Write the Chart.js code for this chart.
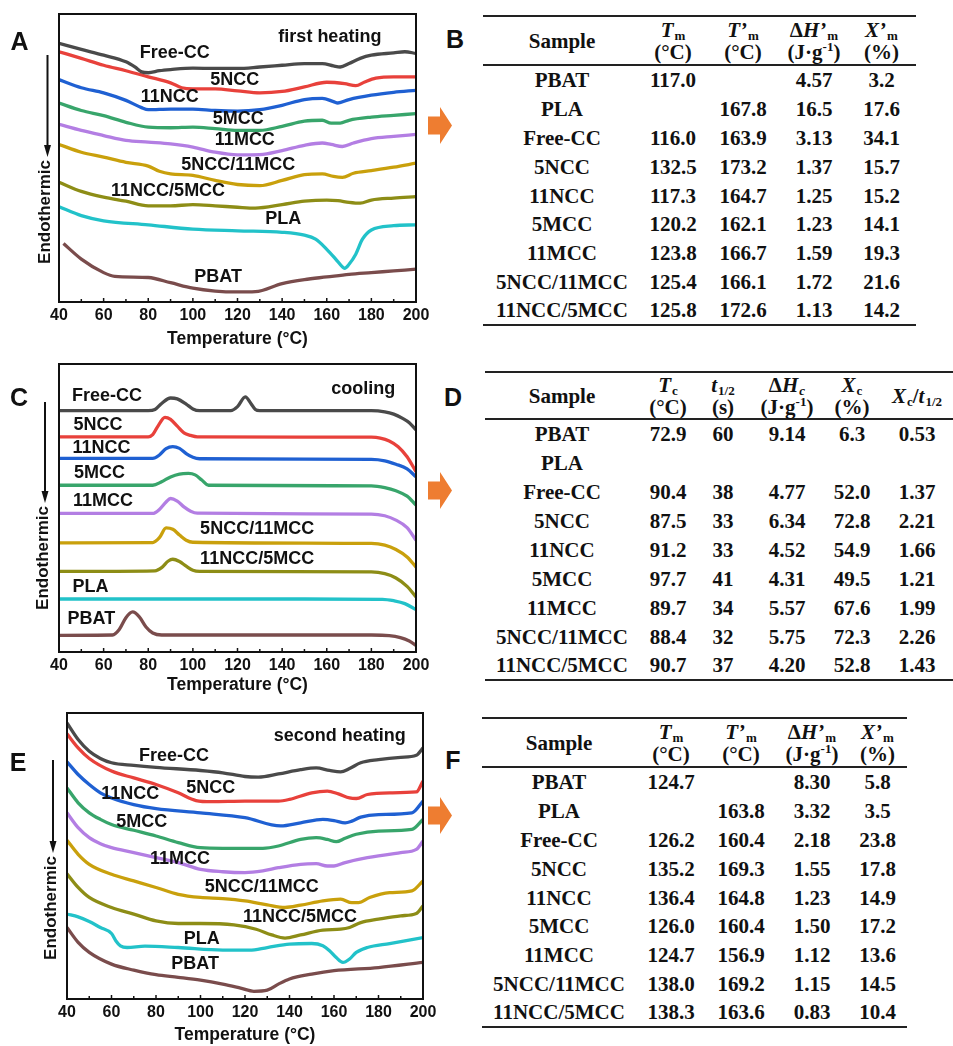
<!DOCTYPE html>
<html lang="en">
  <head>
    <meta charset="UTF-8" />
    <meta name="viewport" content="width=device-width, initial-scale=1.0" />
    <title>DSC curves and thermal parameters</title>
    <script src="https://cdn.jsdelivr.net/npm/chart.js@4.4.1/dist/chart.umd.min.js"></script>
    <style>
      html,
      body {
        margin: 0;
        padding: 0;
        background: #fff;
      }
      body {
        position: relative;
        width: 953px;
        height: 1046px;
        overflow: hidden;
      }
      canvas {
        position: absolute;
        left: 0;
      }
      .letter {
        position: absolute;
        font: bold 25px "Liberation Sans", Arial, sans-serif;
        color: #111;
        line-height: 1;
        transform: translate(-50%, -50%);
      }
      .arrow {
        position: absolute;
        left: 428px;
        width: 24px;
        height: 37px;
        background: #ee7d31;
        clip-path: polygon(0 26%, 50% 26%, 50% 0, 100% 50%, 50% 100%, 50% 74%, 0 74%);
      }
      table {
        position: absolute;
        border-collapse: separate;
        border-spacing: 0;
        table-layout: fixed;
        font: bold 21px "Liberation Serif", "Times New Roman", serif;
        color: #111;
      }
      th,
      td {
        padding: 0;
        text-align: center;
        white-space: nowrap;
      }
      th {
        line-height: 22px;
        border-top: 2px solid #222;
        border-bottom: 2px solid #222;
      }
      td {
        line-height: 21px;
      }
      tr:last-child td {
        border-bottom: 2px solid #222;
      }
      sub,
      sup {
        font-size: 13px;
        line-height: 0;
        position: relative;
        vertical-align: baseline;
        font-style: normal;
      }
      sub {
        top: 3px;
        margin-left: 1px;
      }
      sup {
        top: -8px;
      }
      sub.it {
        font-style: italic;
      }
    </style>
  </head>
  <body>
    <canvas id="chartA" width="440" height="350" style="top: 0"></canvas>
    <canvas id="chartC" width="440" height="346" style="top: 350px"></canvas>
    <canvas id="chartE" width="440" height="346" style="top: 700px"></canvas>

    <div class="letter" style="left: 19.5px; top: 40.5px">A</div>
    <div class="letter" style="left: 19px; top: 397px">C</div>
    <div class="letter" style="left: 18px; top: 762px">E</div>
    <div class="letter" style="left: 455px; top: 39px">B</div>
    <div class="letter" style="left: 453px; top: 397px">D</div>
    <div class="letter" style="left: 453px; top: 760px">F</div>

    <div class="arrow" style="top: 107px"></div>
    <div class="arrow" style="top: 472px"></div>
    <div class="arrow" style="top: 797px"></div>

    <script>
      // curve order in the DSC panels (top to bottom)
      const samples = [
        "Free-CC",
        "5NCC",
        "11NCC",
        "5MCC",
        "11MCC",
        "5NCC/11MCC",
        "11NCC/5MCC",
        "PLA",
        "PBAT",
      ];

      // heat flow (a.u., curves shifted vertically) vs temperature (°C)
      const firstHeating = [
        [[40,89.8],[50,87.7],[60,85.7],[70,83.4],[74,81.6],[77,79.9],[80,79.6],[85,80.3],[90,80.7],[100,81.2],[110,81.1],[120,81.1],[130,81.6],[140,82.2],[150,82.8],[158,82.8],[163,82.0],[166,81.6],[170,82.8],[175,84.6],[180,85.7],[190,86.5],[195,86.9],[200,86.3]],
        [[40,86.9],[50,84.6],[60,82.2],[70,80.3],[80,78.2],[90,76.1],[95,74.4],[100,74.0],[110,74.0],[120,73.3],[130,72.6],[140,73.1],[150,74.7],[160,76.3],[168,75.8],[173,75.1],[177,76.4],[182,77.7],[190,78.2],[200,78.2]],
        [[40,77.2],[50,74.4],[60,72.6],[70,70.0],[77,67.5],[80,66.8],[90,67.0],[100,67.0],[110,66.5],[120,66.3],[130,66.8],[140,68.3],[150,70.3],[158,70.7],[163,69.6],[165,69.1],[170,70.3],[180,71.8],[190,72.8],[200,73.5]],
        [[40,69.1],[50,66.5],[60,64.7],[70,62.4],[80,60.7],[90,60.5],[100,60.7],[110,60.2],[120,59.6],[130,59.6],[140,61.0],[150,62.8],[158,63.1],[162,62.1],[166,62.1],[170,63.1],[180,64.2],[190,64.8],[200,65.4]],
        [[40,61.7],[50,59.6],[60,57.8],[70,56.1],[80,55.5],[90,54.9],[100,53.8],[110,52.0],[120,51.1],[130,51.2],[140,52.6],[150,54.4],[158,55.2],[162,54.7],[167,54.0],[172,55.2],[180,56.7],[190,57.5],[200,58.2]],
        [[40,54.7],[50,52.0],[60,50.3],[70,48.5],[80,47.2],[85,45.4],[90,44.5],[100,44.0],[110,42.2],[120,40.8],[130,40.4],[140,42.2],[150,44.2],[158,44.5],[163,43.6],[167,43.3],[172,44.7],[180,45.6],[190,46.8],[200,48.2]],
        [[40,41.6],[50,38.4],[60,36.4],[70,35.0],[80,33.4],[90,33.4],[100,33.8],[110,33.4],[120,32.9],[128,32.6],[140,33.8],[150,35.0],[160,35.4],[165,35.2],[170,34.6],[175,34.3],[180,35.4],[190,36.1],[200,36.6]],
        [[40,33.1],[50,30.0],[60,28.2],[80,26.8],[100,25.3],[120,24.7],[140,24.2],[150,23.2],[155,21.8],[160,18.3],[164,14.9],[167,12.2],[168,11.7],[170,13.1],[173,16.6],[176,21.8],[180,25.0],[190,26.5],[200,26.8]],
        [[42,20.3],[50,14.9],[60,10.2],[65,8.9],[80,8.5],[90,6.7],[100,4.8],[110,3.8],[120,3.5],[128,3.6],[140,6.4],[150,7.8],[160,8.7],[170,9.6],[180,10.2],[190,10.8],[200,11.4]],
      ];

      const cooling = [
        [[40,83.8],[80,83.8],[83,84.2],[86,86.3],[90,88.2],[93,87.9],[97,86.1],[100,84.4],[103,83.8],[117,83.8],[120,85.2],[123.5,88.6],[126,86.3],[128,84.2],[130,83.8],[180,83.8],[186,83.4],[190,82.6],[194,81.1],[197,79.6],[200,77.1]],
        [[40,74.7],[80,74.7],[82,75.5],[84,78.0],[87.5,81.5],[90,80.8],[93,78.4],[96,76.1],[99,75.2],[102,74.7],[180,74.6],[184,74.3],[188,73.3],[192,71.3],[196,67.8],[200,62.6]],
        [[40,67.2],[82,67.2],[85,68.4],[88,70.6],[91,71.3],[94,70.7],[97,68.9],[100,67.6],[103,67.1],[180,66.9],[186,66.4],[191,65.2],[196,63.6],[200,60.8]],
        [[40,57.9],[82,57.9],[86,59.1],[90,60.8],[94,61.8],[98,62.0],[101,61.5],[104,59.7],[107,57.9],[180,57.7],[186,57.1],[191,56.0],[196,54.1],[200,51.0]],
        [[40,48.1],[82,48.1],[85,49.5],[88,52.1],[90,53.3],[93,52.4],[96,50.4],[99,48.9],[102,48.2],[180,47.9],[186,47.3],[191,45.8],[196,43.2],[200,38.8]],
        [[40,37.9],[82,38.0],[85,39.7],[88,43.1],[91,42.6],[94,40.6],[97,38.8],[100,38.1],[180,37.7],[186,37.1],[191,35.6],[196,33.0],[200,29.5]],
        [[40,28.0],[83,28.2],[86,29.3],[89,31.6],[91,32.2],[94,31.4],[97,29.8],[100,28.4],[103,28.0],[180,27.8],[186,27.2],[191,25.7],[196,22.8],[200,19.1]],
        [[40,18.4],[100,18.4],[150,18.4],[185,18.3],[190,17.8],[195,16.8],[200,14.7]],
        [[40,5.8],[64,5.9],[67,7.8],[70,11.9],[73,13.9],[76,12.2],[79,8.7],[82,6.6],[86,5.9],[180,5.9],[188,5.7],[193,5.0],[197,3.8],[200,2.3]],
      ];

      const secondHeating = [
        [[40,96.5],[45,90.7],[50,86.6],[55,84.1],[60,82.6],[70,81.7],[80,81.0],[100,79.9],[110,79.1],[120,77.8],[126,77.6],[135,78.7],[145,80.2],[152,80.8],[158,79.9],[163,79.4],[167,80.6],[172,82.6],[180,83.7],[190,84.5],[197,85.2],[200,87.8]],
        [[40,92.7],[45,87.8],[50,84.1],[60,79.7],[70,77.3],[80,75.0],[90,72.1],[98,69.4],[105,69.0],[120,69.2],[135,69.2],[140,69.8],[150,72.1],[157,72.7],[162,71.7],[167,70.3],[170,70.1],[175,71.5],[185,72.1],[197,72.4],[200,76.2]],
        [[40,82.9],[45,78.5],[50,75.0],[55,72.1],[60,70.3],[70,68.0],[80,66.6],[100,65.1],[120,63.4],[136,60.5],[145,61.6],[155,62.8],[160,62.4],[165,61.6],[168,62.2],[172,63.6],[180,64.5],[195,65.1],[200,69.2]],
        [[40,73.8],[45,68.6],[50,65.1],[55,62.8],[60,61.0],[70,59.0],[80,57.0],[90,54.7],[100,52.9],[110,52.7],[128,52.7],[135,53.5],[145,55.8],[152,56.4],[157,55.8],[161,55.0],[165,56.2],[170,57.6],[180,58.7],[195,59.3],[200,62.8]],
        [[40,65.1],[45,59.9],[50,56.4],[55,54.3],[60,52.9],[70,51.2],[80,49.4],[90,47.7],[100,45.3],[110,44.5],[120,44.2],[128,44.8],[135,45.9],[145,47.1],[152,47.3],[157,46.5],[160,46.5],[165,47.7],[175,49.4],[190,51.2],[197,52.3],[200,55.2]],
        [[40,55.5],[45,50.6],[50,47.1],[60,43.6],[70,41.3],[80,39.0],[90,36.6],[100,35.5],[110,35.1],[120,34.3],[130,32.9],[138,32.0],[145,32.8],[155,34.3],[163,34.9],[168,33.7],[171,33.7],[176,35.5],[185,37.2],[195,37.8],[200,41.3]],
        [[40,43.8],[45,39.0],[50,35.5],[60,32.0],[70,29.7],[80,27.3],[90,26.4],[100,26.4],[115,25.9],[125,24.4],[132,22.4],[138,21.3],[145,22.4],[155,24.1],[163,24.4],[167,25.0],[172,26.7],[180,27.9],[190,29.1],[197,29.9],[200,32.6]],
        [[40,29.7],[45,28.7],[50,27.1],[55,25.0],[60,22.9],[62,20.3],[64,18.6],[67,18.0],[75,18.5],[90,18.0],[110,17.1],[122,17.1],[130,18.0],[140,19.2],[150,19.4],[155,18.6],[158,16.9],[161,14.5],[164,12.8],[167,14.0],[170,16.3],[175,18.0],[185,19.4],[200,21.5]],
        [[40,25.0],[45,19.8],[50,16.3],[60,12.2],[70,10.1],[80,8.5],[90,7.6],[100,6.6],[110,5.2],[118,3.8],[124,2.7],[130,3.1],[135,5.2],[140,7.0],[150,8.7],[160,9.9],[180,11.0],[200,12.8]],
      ];

      // table rows
      const tableSamples = ["PBAT", "PLA", "Free-CC", "5NCC", "11NCC", "5MCC", "11MCC", "5NCC/11MCC", "11NCC/5MCC"];

      const firstTm = ["117.0", "", "116.0", "132.5", "117.3", "120.2", "123.8", "125.4", "125.8"];
      const firstTmPrime = ["", "167.8", "163.9", "173.2", "164.7", "162.1", "166.7", "166.1", "172.6"];
      const firstDHm = ["4.57", "16.5", "3.13", "1.37", "1.25", "1.23", "1.59", "1.72", "1.13"];
      const firstXm = ["3.2", "17.6", "34.1", "15.7", "15.2", "14.1", "19.3", "21.6", "14.2"];

      const coolTc = ["72.9", "", "90.4", "87.5", "91.2", "97.7", "89.7", "88.4", "90.7"];
      const coolHalfTime = ["60", "", "38", "33", "33", "41", "34", "32", "37"];
      const coolDHc = ["9.14", "", "4.77", "6.34", "4.52", "4.31", "5.57", "5.75", "4.20"];
      const coolXc = ["6.3", "", "52.0", "72.8", "54.9", "49.5", "67.6", "72.3", "52.8"];
      const coolRate = ["0.53", "", "1.37", "2.21", "1.66", "1.21", "1.99", "2.26", "1.43"];

      const secondTm = ["124.7", "", "126.2", "135.2", "136.4", "126.0", "124.7", "138.0", "138.3"];
      const secondTmPrime = ["", "163.8", "160.4", "169.3", "164.8", "160.4", "156.9", "169.2", "163.6"];
      const secondDHm = ["8.30", "3.32", "2.18", "1.55", "1.23", "1.50", "1.12", "1.15", "0.83"];
      const secondXm = ["5.8", "3.5", "23.8", "17.8", "14.9", "17.2", "13.6", "14.5", "10.4"];

      // styling
      const lineColors = ["#4a4a4a", "#e8413b", "#1f60d2", "#38a56b", "#b37ee3", "#c9a00c", "#8d8d16", "#22c2c9", "#7a4c4c"];
      const FONT = '"Liberation Sans", Arial, sans-serif';

      // label anchors (temperature, heat flow)
      const firstNotes = [
        ["first heating", 161.4, 92.1], ["Free-CC", 91.9, 86.3], ["5NCC", 118.8, 77.0],
        ["11NCC", 89.6, 71.2], ["5MCC", 120.3, 63.6], ["11MCC", 123.3, 56.3],
        ["5NCC/11MCC", 120.3, 47.4], ["11NCC/5MCC", 88.9, 38.7], ["PLA", 140.5, 28.8], ["PBAT", 111.3, 8.5],
      ];
      const coolNotes = [
        ["cooling", 176.4, 91.2], ["Free-CC", 61.5, 88.9], ["5NCC", 57.5, 78.8],
        ["11NCC", 59.0, 70.7], ["5MCC", 58.2, 62.2], ["11MCC", 59.7, 52.4],
        ["5NCC/11MCC", 128.8, 42.8], ["11NCC/5MCC", 128.8, 32.4], ["PLA", 54.1, 22.6], ["PBAT", 54.5, 11.6],
      ];
      const secondNotes = [
        ["second heating", 162.6, 91.9], ["Free-CC", 88.1, 84.9], ["5NCC", 104.6, 73.6],
        ["11NCC", 68.4, 71.5], ["5MCC", 73.6, 62.0], ["11MCC", 90.8, 49.1],
        ["5NCC/11MCC", 127.5, 39.3], ["11NCC/5MCC", 144.7, 28.5], ["PLA", 100.6, 20.9], ["PBAT", 97.6, 12.2],
      ];

      Chart.defaults.font.family = FONT;

      function drawPanel(id, curves, notes, box) {
        // frame, inward ticks, curve names and the endothermic arrow
        const decor = {
          id: "decor",
          afterDatasetsDraw(chart) {
            const { ctx, chartArea: a, scales } = chart;
            const x = scales.x,
              y = scales.y;
            ctx.save();
            ctx.fillStyle = "#111";
            ctx.strokeStyle = "#111";
            ctx.font = "bold 18px " + FONT;
            ctx.textAlign = "center";
            ctx.textBaseline = "middle";
            notes.forEach(([text, t, v]) => {
              ctx.fillText(text, x.getPixelForValue(t), y.getPixelForValue(v));
            });

            ctx.lineWidth = 2;
            ctx.strokeRect(a.left, a.top, a.right - a.left, a.bottom - a.top);
            ctx.lineWidth = 1.5;
            for (let t = 40; t <= 200; t += 10) {
              const px = x.getPixelForValue(t);
              ctx.beginPath();
              ctx.moveTo(px, a.bottom);
              ctx.lineTo(px, a.bottom - (t % 20 === 0 ? 4 : 3));
              ctx.stroke();
            }

            const ax = a.left + box.arrowX;
            const a0 = a.top + box.arrowTop;
            const a1 = a.top + box.arrowTip;
            ctx.lineWidth = 2;
            ctx.beginPath();
            ctx.moveTo(ax, a0);
            ctx.lineTo(ax, a1 - 10);
            ctx.stroke();
            ctx.beginPath();
            ctx.moveTo(ax - 3.5, a1 - 12);
            ctx.lineTo(ax + 3.5, a1 - 12);
            ctx.lineTo(ax, a1);
            ctx.closePath();
            ctx.fill();

            ctx.font = "bold 17px " + FONT;
            ctx.translate(ax - 2, a1 + 55);
            ctx.rotate(-Math.PI / 2);
            ctx.fillText("Endothermic", 0, 0);
            ctx.restore();
          },
        };

        new Chart(document.getElementById(id), {
          type: "line",
          data: {
            datasets: curves.map((pts, i) => ({
              label: samples[i],
              data: pts.map(([t, v]) => ({ x: t, y: v })),
              borderColor: lineColors[i],
              borderWidth: 3.3,
              pointRadius: 0,
              cubicInterpolationMode: "monotone",
              fill: false,
            })),
          },
          options: {
            responsive: false,
            animation: false,
            devicePixelRatio: 1,
            layout: { padding: { left: box.left, right: box.right, top: box.top, bottom: 0 } },
            plugins: { legend: { display: false }, tooltip: { enabled: false } },
            scales: {
              x: {
                type: "linear",
                min: 40,
                max: 200,
                ticks: { stepSize: 20, padding: 3.5, color: "#111", font: { size: 16, weight: "bold" } },
                grid: { display: false, drawTicks: false },
                border: { display: false },
                title: {
                  display: true,
                  text: "Temperature (°C)",
                  color: "#111",
                  padding: 0,
                  font: { size: 17.5, weight: "bold" },
                },
                afterFit: (scale) => {
                  scale.height = box.axis;
                },
              },
              y: { display: false, min: 0, max: 100 },
            },
          },
          plugins: [decor],
        });
      }

      drawPanel("chartA", firstHeating, firstNotes, {
        left: 59, right: 24, top: 14, axis: 48, arrowX: -11.5, arrowTop: 41, arrowTip: 143,
      });
      drawPanel("chartC", cooling, coolNotes, {
        left: 59, right: 24, top: 14, axis: 44, arrowX: -14, arrowTop: 38, arrowTip: 139,
      });
      drawPanel("chartE", secondHeating, secondNotes, {
        left: 67, right: 17, top: 13, axis: 47, arrowX: -14, arrowTop: 47, arrowTip: 140,
      });

      function buildTable(left, top, widths, heads, headH, rowH, columns) {
        const t = document.createElement("table");
        t.style.left = left + "px";
        t.style.top = top + "px";
        t.style.width = widths.reduce((s, w) => s + w, 0) + "px";
        const cols = widths.map((w) => `<col style="width:${w}px">`).join("");
        const head = heads.map((h) => `<th style="height:${headH}px">${h}</th>`).join("");
        const body = tableSamples
          .map((s, r) => {
            const h = r === tableSamples.length - 1 ? rowH - 2 : rowH;
            const cells = [s, ...columns.map((c) => c[r])];
            return "<tr>" + cells.map((v) => `<td style="height:${h}px">${v}</td>`).join("") + "</tr>";
          })
          .join("");
        t.innerHTML = `<colgroup>${cols}</colgroup><thead><tr>${head}</tr></thead><tbody>${body}</tbody>`;
        document.body.appendChild(t);
      }

      const meltHeads = [
        "Sample",
        "<i>T</i><sub>m</sub><br>(°C)",
        "<i>T’</i><sub>m</sub><br>(°C)",
        "Δ<i>H’</i><sub>m</sub><br>(J·g<sup>-1</sup>)",
        "<i>X’</i><sub>m</sub><br>(%)",
      ];
      const coolHeads = [
        "Sample",
        "<i>T</i><sub>c</sub><br>(°C)",
        "<i>t</i><sub>1/2</sub><br>(s)",
        "Δ<i>H<sub class=\"it\">c</sub></i><br>(J·g<sup>-1</sup>)",
        "<i>X</i><sub>c</sub><br>(%)",
        "<i>X</i><sub>c</sub>/<i>t</i><sub>1/2</sub>",
      ];

      buildTable(483, 15, [158, 64, 76, 66, 69], meltHeads, 47, 28.9, [firstTm, firstTmPrime, firstDHm, firstXm]);
      buildTable(485, 371, [154, 58, 52, 76, 54, 76], coolHeads, 45, 29, [coolTc, coolHalfTime, coolDHc, coolXc, coolRate]);
      buildTable(482, 717, [154, 70, 70, 72, 59], meltHeads, 47, 28.9, [secondTm, secondTmPrime, secondDHm, secondXm]);
    </script>
  </body>
</html>
